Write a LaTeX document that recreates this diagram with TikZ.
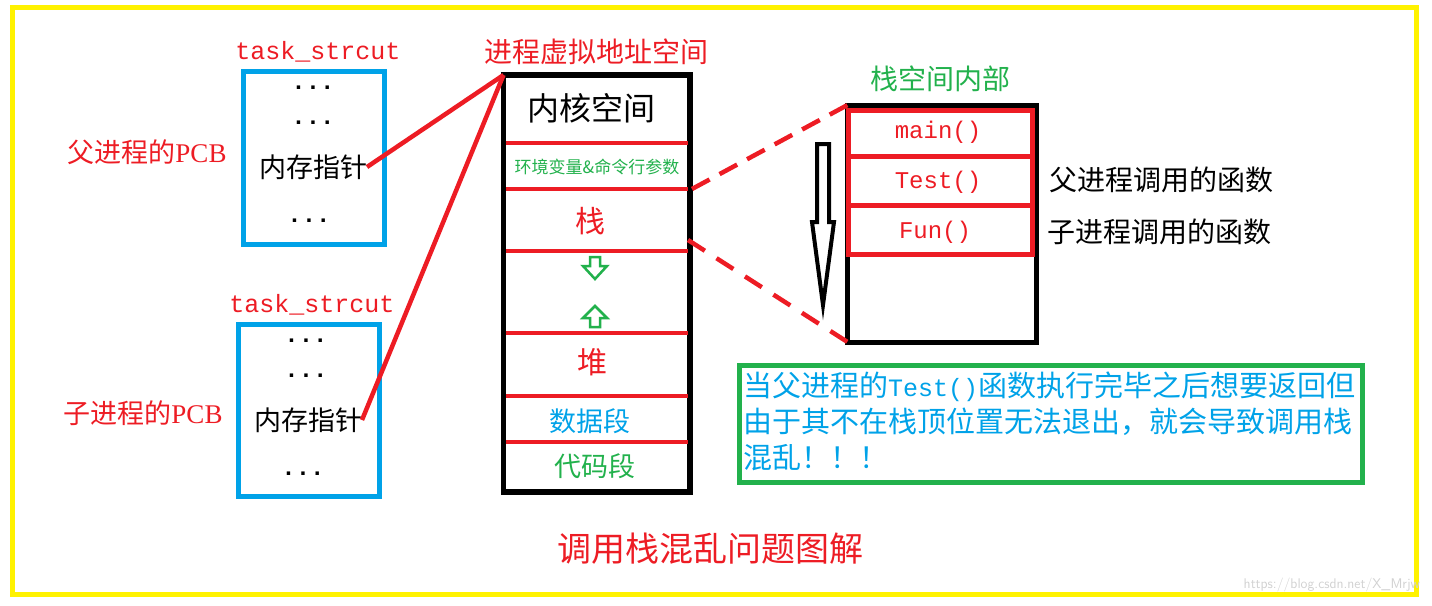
\documentclass[tikz,border=0pt]{standalone}
\usepackage{fontspec}
\setmainfont{Liberation Serif}
\setmonofont{Liberation Mono}
\newfontfamily\cjk{Noto Sans CJK SC}
\newcommand\setfs[1]{\fontsize{#1}{#1}\selectfont}
\definecolor{pred}{HTML}{ED1C24}
\definecolor{pblue}{HTML}{00A2E8}
\definecolor{pgreen}{HTML}{22B14C}
\definecolor{pyellow}{HTML}{FFF200}
\tikzset{
  txt/.style={inner sep=0pt, outer sep=0pt, anchor=center},
  cjktxt/.style={txt, font=\cjk\setfs{#1}},
  monotxt/.style={txt, font=\ttfamily\setfs{#1}},
  dots/.style={txt, font=\ttfamily\bfseries\setfs{24}},
  pcbbox/.style={draw=pblue, line width=5pt},
  sep/.style={draw=pred, line width=4.5pt},
  redline/.style={draw=pred, line width=4.5pt},
  reddash/.style={draw=pred, line width=4.5pt},
  hollow/.style={draw=pgreen, line width=2.5pt, fill=white},
}
\begin{document}
\begin{tikzpicture}[x=1pt,y=-1pt]
\useasboundingbox (0,0) rectangle (1432,605);
% frame
\draw[pyellow, line width=5pt] (12.5,7.5) rectangle (1416,594);

% ---------- parent PCB ----------
\node[monotxt=25, text=pred] (ts1) at (318,52) {task\_strcut};
\draw[pcbbox] (243.5,71.5) rectangle (384.5,244.5);
\node[dots] (d11) at (313,88) {...};
\node[dots] (d12) at (313,123) {...};
\node[cjktxt=27] (ptr1) at (313,167) {内存指针};
\node[dots] (d13) at (309,221) {...};
\node[txt, text=pred, font=\setfs{27}] (lab1) at (147,152) {{\cjk 父进程的}PCB};

% ---------- child PCB ----------
\node[monotxt=25, text=pred] (ts2) at (312,305) {task\_strcut};
\draw[pcbbox] (238.5,324.5) rectangle (379.5,496.5);
\node[dots] (d21) at (306,341) {...};
\node[dots] (d22) at (306,376) {...};
\node[cjktxt=27] (ptr2) at (308,420) {内存指针};
\node[dots] (d23) at (303,474) {...};
\node[txt, text=pred, font=\setfs{27}] (lab2) at (143,413) {{\cjk 子进程的}PCB};

% ---------- virtual address space ----------
\node[cjktxt=28, text=pred] (vtitle) at (596,52) {进程虚拟地址空间};
\coordinate (vtl) at (503.5,75);
\draw[line width=5.5pt] (vtl) rectangle (690,492);
\draw[sep] (506,143) -- (688,143);
\draw[sep] (506,189) -- (688,189);
\draw[sep] (506,251) -- (688,251);
\draw[sep] (506,333) -- (688,333);
\draw[sep] (506,396) -- (688,396);
\draw[sep] (506,442) -- (688,442);
\node[cjktxt=32] (kern) at (591,108) {内核空间};
\node[cjktxt=17, text=pgreen] (env) at (597,167) {环境变量\&命令行参数};
\node[cjktxt=30, text=pred] (stk) at (590,221) {栈};
\node[cjktxt=30, text=pred] (heap) at (592,362) {堆};
\node[cjktxt=27, text=pblue] (data) at (590,421) {数据段};
\node[cjktxt=27, text=pgreen] (code) at (595,466) {代码段};
% hollow growth arrows
\draw[hollow] (590,257) -- (600,257) -- (600,266) -- (607,266) -- (595,279) -- (583,266) -- (590,266) -- cycle;
\draw[hollow] (590,327) -- (600,327) -- (600,318) -- (607,318) -- (595,306) -- (583,318) -- (590,318) -- cycle;

% pointer connectors
\draw[redline] (ptr1.east) -- (vtl);
\draw[redline] (ptr2.east) -- (vtl);

% ---------- stack interior ----------
\node[cjktxt=28, text=pgreen] (stitle) at (940,79) {栈空间内部};
\coordinate (stl) at (847.5,105);
\coordinate (sbl) at (847.5,342);
\draw[line width=5pt] (stl) rectangle (1036,342);
\draw[redline, line width=5pt] (848.5,110) rectangle (1032,156);
\draw[redline, line width=5pt] (848.5,156) rectangle (1032,205);
\draw[redline, line width=5pt] (848.5,205) rectangle (1032,254);
\node[monotxt=24, text=pred] (fmain) at (938,132) {main()};
\node[monotxt=24, text=pred] (ftest) at (938,182) {Test()};
\node[monotxt=24, text=pred] (ffun) at (935,232) {Fun()};
\node[cjktxt=28, anchor=west] (plab) at (1049,180) {父进程调用的函数};
\node[cjktxt=28, anchor=west] (clab) at (1047,232) {子进程调用的函数};
% growth arrow (black, hollow)
\draw[line width=4pt, fill=white, line join=miter] (817,144) -- (829,144) -- (829,222) -- (834,222) -- (823,305) -- (812,222) -- (817,222) -- cycle;

% zoom dashed connectors
\coordinate (stkA) at (692,189);
\coordinate (stkB) at (688,240);
\draw[reddash, dash pattern=on 20pt off 11.3pt] (stkA) -- (stl);
\draw[reddash, dash pattern=on 20pt off 13.8pt] (stkB) -- (sbl);

% ---------- note ----------
\draw[draw=pgreen, line width=5pt] (739.5,365.5) rectangle (1362,482.5);
\node[txt, anchor=west, text=pblue, font=\cjk\setfs{29}] (n1) at (743,387) {当父进程的{\ttfamily\setfs{25}Test()}函数执行完毕之后想要返回但};
\node[txt, anchor=west, text=pblue, font=\cjk\setfs{29}] (n2) at (743,422) {由于其不在栈顶位置无法退出，就会导致调用栈};
\node[txt, anchor=west, text=pblue, font=\cjk\setfs{29}] (n3) at (743,458) {混乱！！！};

% ---------- caption ----------
\node[cjktxt=34, text=pred] (cap) at (710,549) {调用栈混乱问题图解};
\node[txt, anchor=east, text=black!18, font=\sffamily\setfs{14}] (wm) at (1420,585) {https://blog.csdn.net/X\_Mrjw};
\end{tikzpicture}
\end{document}
